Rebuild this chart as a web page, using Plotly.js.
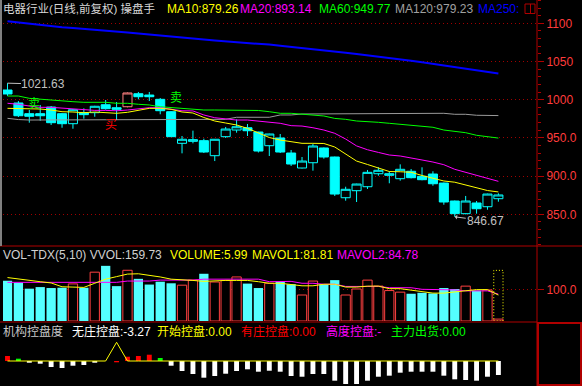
<!DOCTYPE html>
<html><head><meta charset="utf-8">
<script src="https://cdn.plot.ly/plotly-3.0.1.min.js"></script>
<style>html,body{margin:0;padding:0;background:#000;}#chart{width:582px;height:386px;}</style>
</head><body><div id="chart"></div>
<script>
// ---- price data (46 daily candles) ----
const openP  = [1012.7,995.7,981.7,981.7,990.4,981.7,968.6,983.0,983.0,993.4,989.5,990.8,1007.8,1006.1,1000.5,984.3,942.9,945.5,946.4,926.7,951.6,960.3,963.3,957.7,939.8,949.9,930.2,910.6,917.5,936.8,925.0,871.7,880.9,886.1,903.1,901.0,896.6,906.3,899.7,902.7,890.9,867.4,850.8,864.8,859.9,870.4];
const highP  = [1021.63,998.3,986.5,993.1,991.7,982.6,987.8,988.7,992.0,999.6,997.0,1009.5,1010.1,1010.1,1002.2,985.0,952.5,959.5,949.0,948.5,964.3,974.3,968.2,958.0,955.5,955.1,934.2,925.0,942.0,937.5,925.5,886.1,890.0,908.0,911.5,906.3,915.4,909.3,911.5,906.3,891.5,868.0,874.0,867.4,877.0,877.5];
const lowP   = [1005.0,977.3,969.9,972.5,966.9,963.3,962.0,975.1,977.7,987.0,973.4,990.0,1000.5,998.3,980.9,951.2,929.8,942.9,930.2,919.7,949.9,956.8,952.5,930.9,926.3,930.2,913.2,910.0,907.1,922.8,874.0,867.8,866.1,883.1,900.5,890.6,894.0,897.0,894.5,887.4,862.5,846.67,850.0,850.8,856.0,866.5];
const closeP = [1007.5,979.0,978.3,979.0,969.9,968.6,986.9,980.4,991.4,988.2,987.4,1008.8,1003.9,1003.9,985.6,951.6,948.2,947.7,931.5,948.2,961.6,964.6,959.4,932.8,955.1,931.5,915.8,919.7,939.4,925.0,876.5,882.7,889.6,904.9,907.6,903.1,908.9,897.9,895.3,890.0,866.1,850.8,867.4,857.3,876.5,875.3];
const highlightIdx = 12;

// ---- moving averages ----
const ma10  = [988.7,988.7,987.8,987.8,986.5,984.3,983.9,983.0,983.9,983.0,982.2,983.5,986.5,988.7,988.7,987.4,983.9,982.6,976.7,972.1,969.5,966.9,962.5,956.4,950.5,947.2,945.0,942.9,942.9,942.7,938.1,928.9,919.7,915.2,910.6,906.0,905.7,905.0,900.8,897.5,893.6,892.0,888.3,883.8,881.1,879.26];
const ma20  = [995.3,994.0,991.7,990.0,990.0,989.0,987.5,986.5,986.0,986.0,985.5,986.5,987.8,989.5,989.5,987.4,985.5,985.3,980.0,976.4,974.7,973.4,973.4,972.1,970.8,969.1,966.0,965.5,963.3,960.3,956.0,948.5,939.5,934.5,931.0,927.6,926.3,923.3,921.1,918.4,914.9,908.9,905.0,901.8,897.9,893.14];
const ma60  = [1004.8,1004.8,1001.8,1000.5,999.6,998.7,997.4,996.6,996.6,996.6,995.3,995.3,994.0,993.1,990.8,989.5,988.7,987.4,986.5,986.5,986.5,986.5,986.5,985.9,984.3,982.2,982.2,980.9,980.0,978.7,975.5,974.3,972.1,971.5,970.4,969.1,967.8,966.5,965.2,963.9,960.3,958.6,956.8,953.4,951.6,949.77];
const ma120 = [975.6,974.0,973.4,973.4,973.4,973.4,973.4,973.4,973.4,973.4,973.4,973.4,973.4,973.4,973.4,973.4,974.3,974.3,974.3,974.3,974.3,977.0,977.0,977.0,977.0,980.0,980.0,981.3,981.3,981.3,981.3,981.3,981.3,982.2,982.2,982.2,982.2,982.2,982.2,982.2,982.2,980.9,980.9,979.6,979.6,979.23];
const ma250 = [1102.7,1101.0,1099.5,1097.6,1095.8,1094.8,1093.7,1092.7,1091.9,1090.8,1089.5,1088.1,1086.8,1085.3,1084.0,1082.7,1081.3,1080.0,1078.7,1077.4,1076.4,1075.9,1074.7,1073.4,1072.1,1070.5,1069.1,1067.8,1066.4,1064.9,1063.3,1061.5,1059.8,1058.2,1056.5,1054.8,1052.9,1051.0,1049.0,1046.9,1044.8,1043.1,1041.2,1039.0,1036.5,1034.3];

// ---- volume ----
const volume = [127,121,102,107,104,105,117,105,154,174,110,160,133,115,124,119,113,129,149,123,128,139,118,104,119,124,116,82,126,116,129,82,101,129,110,96,91,86,89,87,104,101,110,96,98,5.99];
const mavol1 = [137,132,128,124,120,108,107,106,119,132,140,148,149,145,139,132,131,128,125,127,128,128,128,124,119,119,116,111,111,116,116,107,107,110,110,102,102,97,92,88,88,92,96,99,99,81.81];
const mavol2 = [122,122,122,122,122,122,122,122,122,122,122,126,126,126,129,129,129,129,132,132,132,132,132,132,124,125,125,119,119,116,116,109,109,109,109,105,105,105,100,100,98,98,95,95,95,84.78];
const vvolLast = 159.73;

// ---- 机构控盘度 ----
const wuZhuang = [null,null,-0.40,-0.63,-1.40,-1.64,-1.10,-0.93,-0.40,null,null,null,null,null,null,-1.10,-2.34,-3.04,-3.90,-3.50,-2.97,-2.34,-1.94,-2.50,-2.27,-2.50,-3.50,-3.67,-3.04,-3.04,-4.60,-5.37,-5.37,-4.60,-3.67,-3.43,-2.73,-2.50,-2.50,-2.50,-3.43,-4.28,-4.44,-4.60,-3.67,-3.27];
const youZhuang = [1.17,null,null,null,null,null,null,null,null,null,-0.3,1.0,1.17,1.47,null,null,null,null,null,null,null,null,null,null,null,null,null,null,null,null,null,null,null,null,null,null,null,null,null,null,null,null,null,null,null,null];
const chuHuo = [null,0.54,null,null,null,null,null,null,null,null,null,null,null,null,0.70,null,null,null,null,null,null,null,null,null,null,null,null,null,null,null,null,null,null,null,null,null,null,null,null,null,null,null,null,null,null,null];
const kaiShi = [0,0,0,0,0,0,0,0,0,0,4.37,0,0,0,0,0,0,0,0,0,0,0,0,0,0,0,0,0,0,0,0,0,0,0,0,0,0,0,0,0,0,0,0,0,0,0];

// ---- signals ----
const sigIdx = [3,10,16];
const sigText = ['卖','买','卖'];
const sigPrice = [995.7,968.2,1004.2];
const sigColor = ['#00ff00','#ff0000','#00ff00'];

// ---- axis ticks ----
const priceTicks = [850,900,950,1000,1050,1100];
const priceTickText = ['850.0','900.0','950.0','1000','1050','1100'];
const volTicks = [100];
const volTickText = ['100.0'];

// ================= build =================
const W = 582, H = 386, ML = 3, MR = 45;
const PW = W - ML - MR;
const px = v => (v - ML) / PW;   // pixel x -> paper
const py = v => 1 - v / H;       // pixel y -> paper
const FONT = "'Liberation Sans', Arial, 'Noto Sans CJK SC', sans-serif";

const idx = closeP.map((_, i) => i + 1);
const up = closeP.map((c, i) => c >= openP[i]);
const n = idx.length;

const mask = (arr, keep) => arr.map((v, i) => keep(i) ? v : null);
const isHi = i => idx[i] === highlightIdx;

const traces = [];
traces.push({
  type: 'candlestick', x: idx,
  open: mask(openP, i => !isHi(i)), high: mask(highP, i => !isHi(i)),
  low: mask(lowP, i => !isHi(i)), close: mask(closeP, i => !isHi(i)),
  increasing: {line: {color: '#00ffff', width: 1}, fillcolor: '#000000'},
  decreasing: {line: {color: '#00ffff', width: 1}, fillcolor: '#00ffff'},
  whiskerwidth: 0, hoverinfo: 'skip', xaxis: 'x', yaxis: 'y'
});
traces.push({
  type: 'candlestick', x: [highlightIdx],
  open: [openP[highlightIdx - 1]], high: [highP[highlightIdx - 1]],
  low: [lowP[highlightIdx - 1]], close: [closeP[highlightIdx - 1]],
  increasing: {line: {color: '#ff8080', width: 1}, fillcolor: '#000000'},
  decreasing: {line: {color: '#ff8080', width: 1}, fillcolor: '#ff8080'},
  whiskerwidth: 0, hoverinfo: 'skip', xaxis: 'x', yaxis: 'y'
});
const maSpec = [[ma120, '#9a9a9a', 1], [ma60, '#00ff00', 1], [ma20, '#ff00ff', 1], [ma10, '#ffff00', 1], [ma250, '#0000ff', 2]];
maSpec.forEach(([arr, col, w]) => traces.push({
  type: 'scatter', mode: 'lines', x: idx, y: arr, line: {color: col, width: w}, hoverinfo: 'skip', xaxis: 'x', yaxis: 'y'
}));

// volume
traces.push({
  type: 'bar', x: idx, y: volume, width: 0.85,
  marker: {color: up.map(u => u ? '#000000' : '#54ffff'),
           line: {color: up.map(u => u ? '#ff4040' : '#54ffff'), width: up.map(u => u ? 1 : 0)}},
  hoverinfo: 'skip', xaxis: 'x', yaxis: 'y2'
});
traces.push({type: 'scatter', mode: 'lines', x: idx, y: mavol2, line: {color: '#ff00ff', width: 1}, hoverinfo: 'skip', xaxis: 'x', yaxis: 'y2'});
traces.push({type: 'scatter', mode: 'lines', x: idx, y: mavol1, line: {color: '#ffff00', width: 1}, hoverinfo: 'skip', xaxis: 'x', yaxis: 'y2'});

// 控盘 panel
traces.push({type: 'bar', x: idx, y: wuZhuang, width: 0.45, marker: {color: '#ffffff', line: {width: 0}}, hoverinfo: 'skip', xaxis: 'x', yaxis: 'y3'});
traces.push({type: 'bar', x: idx, y: youZhuang, width: 0.45, marker: {color: '#ff0000', line: {width: 0}}, hoverinfo: 'skip', xaxis: 'x', yaxis: 'y3'});
traces.push({type: 'bar', x: idx, y: chuHuo, width: 0.45, marker: {color: '#00ff00', line: {width: 0}}, hoverinfo: 'skip', xaxis: 'x', yaxis: 'y3'});
traces.push({type: 'scatter', mode: 'lines', x: idx, y: kaiShi, line: {color: '#ffff00', width: 1}, hoverinfo: 'skip', xaxis: 'x', yaxis: 'y3'});

const lastI = n - 1;
const f2 = v => v.toFixed(2);
const titleRow = (row, items) => items.map(([t, x, c, s]) => ({
  text: t, xref: 'paper', yref: 'paper', x: px(x - 2), y: py(row), xanchor: 'left', yanchor: 'middle',
  showarrow: false, font: {family: FONT, size: s || 12, color: c}
}));

const annotations = [];
// signals first (drawn beneath the price labels)
sigIdx.forEach((s, k) => annotations.push({
  x: s, y: sigPrice[k], xref: 'x', yref: 'y', text: sigText[k], showarrow: false, borderpad: 0,
  xanchor: 'left', yanchor: 'middle', xshift: -2, font: {family: "'Noto Sans CJK SC', sans-serif", size: 12, color: sigColor[k]}
}));
annotations.push(...titleRow(9, [
    ['电器行业(日线,前复权) 操盘手', 3, '#d8d8d8', 11.5],
    ['MA10:' + f2(ma10[lastI]), 167, '#ffff00'],
    ['MA20:' + f2(ma20[lastI]), 240, '#ff00ff'],
    ['MA60:' + f2(ma60[lastI]), 319, '#00ff00'],
    ['MA120:' + f2(ma120[lastI]), 395, '#a0a0a0'],
    ['MA250:', 478, '#0000ff']
  ]));
annotations.push(...titleRow(254.5, [
    ['VOL-TDX(5,10) VVOL:' + f2(vvolLast), 3, '#d0d0d0'],
    ['VOLUME:' + f2(volume[lastI]), 170, '#ffff00'],
    ['MAVOL1:' + f2(mavol1[lastI]), 252, '#ffff00'],
    ['MAVOL2:' + f2(mavol2[lastI]), 337, '#ff00ff']
  ]));
annotations.push(...titleRow(331.7, [
    ['机构控盘度', 3, '#c8c8c8'],
    ['无庄控盘:' + f2(wuZhuang[lastI]), 72, '#ffffff'],
    ['开始控盘:' + f2(kaiShi[lastI]), 157, '#ffff00'],
    ['有庄控盘:0.00', 241, '#ff0000'],
    ['高度控盘:-', 326, '#ff00ff'],
    ['主力出货:0.00', 391, '#00ff00']
  ]));

// high / low labels
const hiVal = Math.max(...highP), hiI = highP.indexOf(hiVal);
const loVal = Math.min(...lowP), loI = lowP.indexOf(loVal);
annotations.push({x: idx[hiI], y: hiVal, xref: 'x', yref: 'y', text: hiVal.toFixed(2), showarrow: true, borderpad: 0,
  arrowhead: 0, arrowwidth: 1, arrowcolor: '#c0c0c0', ax: 36, ay: 1, standoff: 0,
  font: {family: FONT, size: 12, color: '#c0c0c0'}});
annotations.push({x: idx[loI], y: loVal, xref: 'x', yref: 'y', text: loVal.toFixed(2), showarrow: true,
  arrowhead: 1, arrowsize: 0.8, arrowwidth: 1, arrowcolor: '#c0c0c0', ax: 31, ay: 4, standoff: 0,
  font: {family: FONT, size: 12, color: '#c0c0c0'}});

const RED = '#b00000';
const shapes = [
  {type: 'line', xref: 'paper', yref: 'paper', x0: 1, x1: 1, y0: 0, y1: 1, line: {color: RED, width: 1}},
  {type: 'line', xref: 'paper', yref: 'paper', x0: px(0), x1: px(W), y0: py(246), y1: py(246), line: {color: RED, width: 1}},
  {type: 'line', xref: 'paper', yref: 'paper', x0: px(0), x1: px(537), y0: py(322), y1: py(322), line: {color: RED, width: 1}},
  {type: 'rect', xref: 'paper', yref: 'paper', x0: px(538), x1: px(581), y0: py(385), y1: py(323), line: {color: RED, width: 2}},
  {type: 'rect', xref: 'paper', yref: 'paper', x0: px(525), x1: px(535), y0: py(13.5), y1: py(4), line: {color: RED, width: 1}},
  {type: 'line', xref: 'paper', yref: 'paper', x0: px(530.5), x1: px(530.5), y0: py(13.5), y1: py(4), line: {color: RED, width: 1}},
  {type: 'line', xref: 'paper', yref: 'paper', x0: px(1), x1: px(1), y0: py(246), y1: py(0), line: {color: '#808080', width: 2}},
  {type: 'rect', xref: 'x', yref: 'y2', x0: idx[lastI] - 0.425, x1: idx[lastI] + 0.425, y0: 0, y1: vvolLast,
   line: {color: '#ffff00', width: 1, dash: '1px,2px'}}
];

const tickAxis = (extra) => Object.assign({
  side: 'right', anchor: 'x', tickmode: 'array', ticks: 'outside', ticklen: 6, tickwidth: 1, tickcolor: RED,
  showline: false, zeroline: false, showgrid: true, gridcolor: '#a00000', gridwidth: 1, griddash: '1px,3px',
  tickfont: {family: FONT, size: 12, color: '#ff3c3c'}, fixedrange: true
}, extra);

const layout = {
  width: W, height: H, margin: {l: ML, r: MR, t: 0, b: 0, pad: 0},
  paper_bgcolor: '#000000', plot_bgcolor: '#000000', showlegend: false,
  barmode: 'overlay', boxmode: 'overlay', boxgap: 0.17, boxgroupgap: 0, hovermode: false, dragmode: false,
  xaxis: {range: [0.588, 49.54], visible: false, rangeslider: {visible: false}, anchor: 'y3', fixedrange: true},
  yaxis: tickAxis({domain: [py(246), 1], range: [808.5, 1130.5], tickvals: priceTicks, ticktext: priceTickText,
    minor: {dtick: 10, tick0: 0, ticks: 'outside', ticklen: 3, tickcolor: RED, showgrid: false}}),
  yaxis2: tickAxis({domain: [py(321), py(246)], range: [0, 236.6], tickvals: volTicks, ticktext: volTickText}),
  yaxis3: {domain: [0, py(322)], range: [-5.84, 9.11], anchor: 'x', visible: false, fixedrange: true},
  shapes: shapes, annotations: annotations
};

Plotly.newPlot('chart', traces, layout, {displayModeBar: false, staticPlot: true});
</script></body></html>
